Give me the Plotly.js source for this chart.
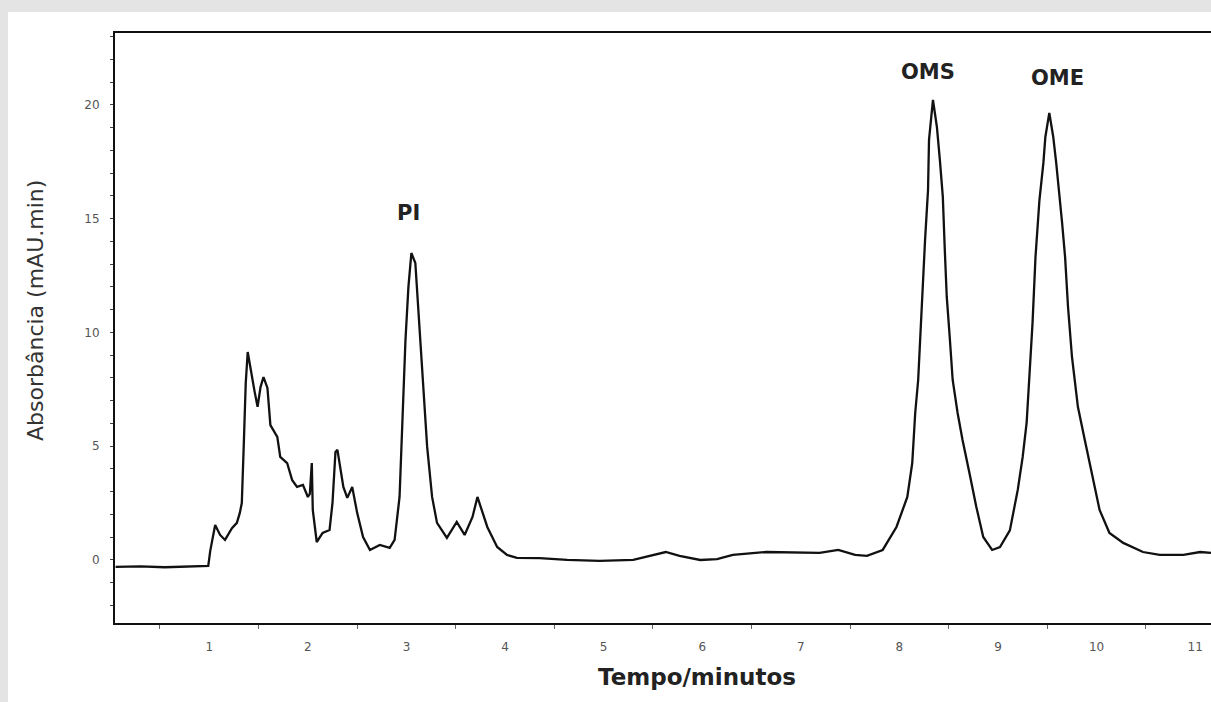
<!DOCTYPE html>
<html>
<head>
<meta charset="utf-8">
<script src="https://cdn.plot.ly/plotly-3.0.1.min.js"></script>
<style>
  html, body { margin: 0; padding: 0; background: #e4e4e4; width: 1211px; height: 702px; overflow: hidden; }
  #chart { position: absolute; left: 8px; top: 12px; width: 1203px; height: 690px; background: #ffffff; }
</style>
</head>
<body>
<div id="chart"></div>
<script>
// Retention time (minutes)
const tempo = [
  0.05, 0.30, 0.55, 0.80, 0.99, 1.01, 1.02, 1.06, 1.11, 1.16,
  1.23, 1.28, 1.31, 1.33, 1.35, 1.37, 1.39, 1.42, 1.46, 1.49,
  1.52, 1.55, 1.59, 1.62, 1.69, 1.72, 1.79, 1.84, 1.89, 1.95,
  2.00, 2.02, 2.04, 2.05, 2.09, 2.15, 2.22, 2.25, 2.28, 2.30,
  2.36, 2.40, 2.45, 2.50, 2.56, 2.63, 2.73, 2.83, 2.88, 2.93,
  2.96, 2.99, 3.02, 3.05, 3.09, 3.12, 3.16, 3.21, 3.26, 3.31,
  3.41, 3.51, 3.59, 3.67, 3.72, 3.82, 3.92, 4.02, 4.12, 4.35,
  4.63, 4.96, 5.30, 5.47, 5.63, 5.77, 5.98, 6.15, 6.31, 6.65,
  6.99, 7.19, 7.38, 7.55, 7.67, 7.83, 7.97, 8.08, 8.13, 8.16,
  8.19, 8.21, 8.24, 8.26, 8.29, 8.30, 8.34, 8.38, 8.41, 8.44,
  8.46, 8.48, 8.51, 8.54, 8.59, 8.64, 8.71, 8.78, 8.85, 8.94,
  9.02, 9.12, 9.20, 9.25, 9.29, 9.32, 9.35, 9.38, 9.42, 9.46,
  9.48, 9.52, 9.56, 9.59, 9.62, 9.65, 9.68, 9.71, 9.75, 9.81,
  9.88, 9.95, 10.03, 10.13, 10.27, 10.47, 10.64, 10.88, 11.05, 11.16
];
// Absorbance (mAU.min)
const absorbancia = [
  -0.30, -0.28, -0.32, -0.28, -0.26, 0.40, 0.66, 1.54, 1.10, 0.88,
  1.40, 1.63, 2.07, 2.50, 5.05, 7.78, 9.14, 8.35, 7.40, 6.73,
  7.60, 8.04, 7.56, 5.93, 5.41, 4.53, 4.26, 3.52, 3.21, 3.30,
  2.77, 2.90, 4.26, 2.20, 0.79, 1.19, 1.32, 2.51, 4.75, 4.84,
  3.21, 2.73, 3.21, 2.07, 1.01, 0.44, 0.66, 0.53, 0.88, 2.77,
  6.59, 9.67, 12.00, 13.49, 13.05, 11.12, 8.66, 4.97, 2.77, 1.63,
  0.97, 1.67, 1.10, 1.89, 2.77, 1.45, 0.57, 0.22, 0.09, 0.08,
  0.00, -0.04, 0.00, 0.18, 0.35, 0.18, 0.00, 0.04, 0.22, 0.35,
  0.31, 0.31, 0.44, 0.22, 0.18, 0.44, 1.45, 2.77, 4.26, 6.46,
  7.91, 9.80, 12.00, 14.07, 16.26, 18.46, 20.22, 19.03, 17.58, 15.96,
  13.63, 11.56, 9.80, 7.91, 6.46, 5.27, 3.82, 2.33, 1.01, 0.44,
  0.57, 1.30, 3.08, 4.53, 6.02, 8.22, 10.42, 13.32, 15.82, 17.45,
  18.59, 19.65, 18.59, 17.45, 16.26, 14.81, 13.32, 11.12, 8.92, 6.73,
  5.27, 3.82, 2.20, 1.19, 0.75, 0.35, 0.22, 0.22, 0.35, 0.31
];
// Peak labels
const picoNomes = ["PI", "OMS", "OME"];
const picoTempo = [3.02, 8.29, 9.60];
const picoAltura = [15.25, 21.45, 21.19];

const xTickVals = [1, 2, 3, 4, 5, 6, 7, 8, 9, 10, 11];
const yTickVals = [0, 5, 10, 15, 20];

const trace = {
  x: tempo, y: absorbancia, type: "scatter", mode: "lines",
  line: { color: "#111111", width: 2.3 }, hoverinfo: "skip", showlegend: false
};

const annotations = picoNomes.map((n, i) => ({
  x: picoTempo[i], y: picoAltura[i], xref: "x", yref: "y", text: "<b>" + n + "</b>", showarrow: false,
  font: { family: "DejaVu Sans, Liberation Sans, sans-serif", size: 21, color: "#222222" },
  xanchor: "center", yanchor: "middle"
}));
annotations.push({
  xref: "paper", yref: "paper", x: 0.531, y: -0.0915, text: "<b>Tempo/minutos</b>", showarrow: false,
  font: { family: "DejaVu Sans, Liberation Sans, sans-serif", size: 23, color: "#222222" },
  xanchor: "center", yanchor: "middle"
});
annotations.push({
  xref: "paper", yref: "paper", x: -0.072, y: 0.529, text: "Absorbância (mAU.min)", showarrow: false,
  textangle: -90,
  font: { family: "DejaVu Sans, Liberation Sans, sans-serif", size: 22, color: "#333333" },
  xanchor: "center", yanchor: "middle"
});

const layout = {
  width: 1203, height: 690,
  margin: { l: 107, r: 0, t: 21, b: 79, pad: 0 },
  paper_bgcolor: "#ffffff", plot_bgcolor: "#ffffff",
  font: { family: "DejaVu Sans, Liberation Sans, sans-serif", color: "#555555" },
  xaxis: {
    range: [0.044, 11.16], showgrid: false, zeroline: false,
    showline: true, linecolor: "#111111", linewidth: 2, mirror: true,
    tickmode: "array", tickvals: xTickVals, ticktext: xTickVals.map(String),
    ticks: "outside", ticklen: 0, tickcolor: "#444444",
    ticklabelstandoff: 12,
    tickfont: { size: 12, color: "#555555" },
    minor: { tick0: 0.5, dtick: 1, ticks: "outside", ticklen: 4, tickcolor: "#666666", showgrid: false }
  },
  yaxis: {
    range: [-2.77, 23.16], showgrid: false, zeroline: false,
    showline: true, linecolor: "#111111", linewidth: 2, mirror: false,
    tickmode: "array", tickvals: yTickVals, ticktext: yTickVals.map(String),
    ticks: "outside", ticklen: 3, tickcolor: "#444444",
    ticklabelstandoff: 8,
    tickfont: { size: 12, color: "#555555" },
    minor: { tick0: 0, dtick: 1, ticks: "outside", ticklen: 3, tickcolor: "#444444", showgrid: false }
  },
  annotations: annotations
};

Plotly.newPlot("chart", [trace], layout, { displayModeBar: false, staticPlot: true });
</script>
</body>
</html>
